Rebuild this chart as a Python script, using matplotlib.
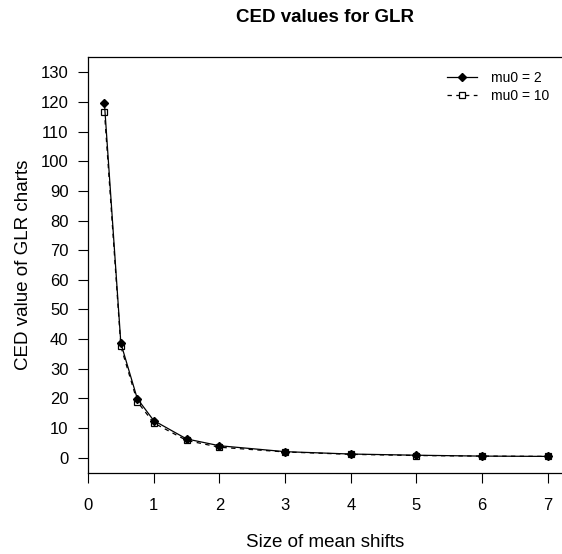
import matplotlib
matplotlib.use("Agg")
import matplotlib.pyplot as plt

# CED values of the GLR chart for each size of mean shift
shifts = [0.25, 0.5, 0.75, 1, 1.5, 2, 3, 4, 5, 6, 7]
ced_mu0_2 = [119.6, 38.6, 19.9, 12.5, 6.3, 4.0, 2.0, 1.2, 0.8, 0.5, 0.4]
ced_mu0_10 = [116.8, 37.5, 18.9, 11.7, 5.8, 3.5, 1.9, 1.1, 0.7, 0.5, 0.4]

x_ticks = [0, 1, 2, 3, 4, 5, 6, 7]
y_ticks = list(range(0, 131, 10))

plt.rcParams["font.family"] = ["Liberation Sans", "DejaVu Sans"]

W, H = 562, 554
fig = plt.figure(figsize=(W / 100, H / 100), dpi=100)

# axes placed in pixel units; right border falls just outside the figure
left, right, top, bottom = 88, 563, 57, 473
ax = fig.add_axes([left / W, (H - bottom) / H, (right - left) / W, (bottom - top) / H])

# mu0 = 10 drawn first so the filled diamonds sit on top of the squares
l10, = ax.plot(shifts, ced_mu0_10, color="black", lw=0.9, ls=(0, (3.5, 3.5)), marker="s",
               ms=5, mfc="white", mec="black", mew=0.9, label="mu0 = 10")
l2, = ax.plot(shifts, ced_mu0_2, color="black", lw=0.9, marker="D", ms=3.6,
              mfc="black", mec="black", label="mu0 = 2")

ax.set_xlim(0, 7.23)
ax.set_ylim(-5.2, 135.2)
ax.set_xticks(x_ticks)
ax.set_yticks(y_ticks)
ax.tick_params(direction="out", length=7, width=0.8, labelsize=12, pad=7)
ax.tick_params(axis="x", pad=11)
for s in ax.spines.values():
    s.set_linewidth(0.9)

ax.set_xlabel("Size of mean shifts", fontsize=13.5, labelpad=15)
ax.set_ylabel("CED value of GLR charts", fontsize=13.5, labelpad=6)
fig.text(325 / W, 1 - 18 / H, "CED values for GLR", ha="center", va="center",
         fontsize=13.5, fontweight="bold")

ax.legend([l2, l10], ["mu0 = 2", "mu0 = 10"], loc="upper right", frameon=False,
          fontsize=10, handlelength=2.2, handletextpad=1.0, labelspacing=0.35,
          borderaxespad=0.5, bbox_to_anchor=(562 / W, 1 - 58 / H),
          bbox_transform=fig.transFigure)

fig.savefig("out.png", dpi=100)
